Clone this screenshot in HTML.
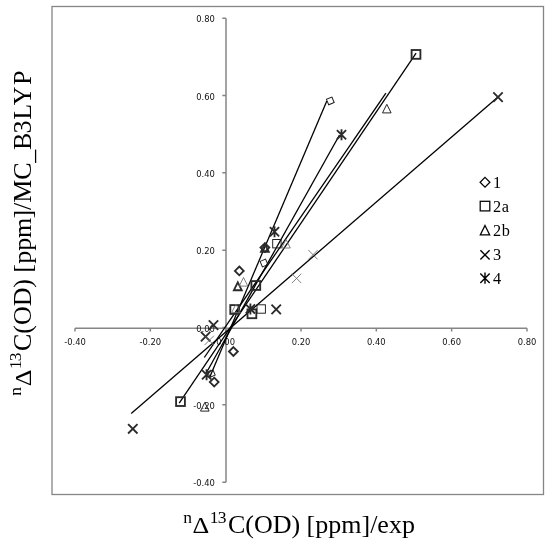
<!DOCTYPE html>
<html><head><meta charset="utf-8"><title>chart</title>
<style>
html,body{margin:0;padding:0;background:#fff;}
svg{display:block}
.tk{font-family:"DejaVu Sans","Liberation Sans",sans-serif;font-size:8.4px;fill:#111;}
.lt{font-family:"Liberation Serif",serif;font-size:16.3px;letter-spacing:0.7px;fill:#000;}
.ti{font-family:"Liberation Serif",serif;font-size:26px;fill:#000;}
.sup{font-size:17.5px;}
.tl{stroke:#000;stroke-width:1.3;}
.k{fill:none;stroke:#2a2a2a;stroke-width:1.85;}
.t{fill:none;stroke:#1a1a1a;stroke-width:0.95;}
.g{fill:none;stroke:#6a6a6a;stroke-width:0.85;}
.lg{fill:none;stroke:#000;stroke-width:1.25;}
.lgk{fill:none;stroke:#000;stroke-width:1.4;}
</style></head><body>
<svg width="548" height="550" viewBox="0 0 548 550">
<rect width="548" height="550" fill="#fff"/>
<rect x="52" y="6.5" width="491.5" height="488" fill="none" stroke="#858585" stroke-width="1.3"/>
<path d="M226,18.2 L226,482.2 M75,328.2 L527,328.2 M222.3,18.20 L226,18.20 M75.00,328.2 L75.00,331.5 M222.3,95.53 L226,95.53 M150.33,328.2 L150.33,331.5 M222.3,172.86 L226,172.86 M225.66,328.2 L225.66,331.5 M222.3,250.19 L226,250.19 M300.99,328.2 L300.99,331.5 M222.3,327.52 L226,327.52 M376.32,328.2 L376.32,331.5 M222.3,404.85 L226,404.85 M451.65,328.2 L451.65,331.5 M222.3,482.18 L226,482.18 M526.98,328.2 L526.98,331.5" fill="none" stroke="#858585" stroke-width="1.5"/>
<text class="tk" x="214.8" y="22.40" text-anchor="end">0.80</text>
<text class="tk" x="214.8" y="99.73" text-anchor="end">0.60</text>
<text class="tk" x="214.8" y="177.06" text-anchor="end">0.40</text>
<text class="tk" x="214.8" y="254.39" text-anchor="end">0.20</text>
<text class="tk" x="214.8" y="331.72" text-anchor="end">0.00</text>
<text class="tk" x="214.8" y="409.05" text-anchor="end">-0.20</text>
<text class="tk" x="214.8" y="486.38" text-anchor="end">-0.40</text>
<text class="tk" x="75.00" y="344.7" text-anchor="middle">-0.40</text>
<text class="tk" x="150.33" y="344.7" text-anchor="middle">-0.20</text>
<text class="tk" x="225.66" y="344.7" text-anchor="middle">0.00</text>
<text class="tk" x="300.99" y="344.7" text-anchor="middle">0.20</text>
<text class="tk" x="376.32" y="344.7" text-anchor="middle">0.40</text>
<text class="tk" x="451.65" y="344.7" text-anchor="middle">0.60</text>
<text class="tk" x="526.98" y="344.7" text-anchor="middle">0.80</text>
<line class="tl" x1="326.8" y1="100.9" x2="209.8" y2="376.9"/>
<line class="tl" x1="416.1" y1="53.1" x2="179.2" y2="403.1"/>
<line class="tl" x1="385.9" y1="93.1" x2="204.3" y2="357.5"/>
<line class="tl" x1="498" y1="97.1" x2="131.2" y2="413.5"/>
<line class="tl" x1="339.5" y1="135" x2="206.5" y2="372.5"/>
<path class="k" transform="translate(233.4,351.5) rotate(0)" d="M0,-4.4 L4.4,0 L0,4.4 L-4.4,0 Z"/>
<path class="k" transform="translate(214.2,382.1) rotate(0)" d="M0,-4.4 L4.4,0 L0,4.4 L-4.4,0 Z"/>
<path class="k" transform="translate(239.3,270.9) rotate(0)" d="M0,-4.4 L4.4,0 L0,4.4 L-4.4,0 Z"/>
<path class="k" transform="translate(264.9,247.6) rotate(0)" d="M0,-4.4 L4.4,0 L0,4.4 L-4.4,0 Z"/>
<path class="t" transform="translate(330.3,100.9) rotate(22)" d="M0,-4.2 L4.2,0 L0,4.2 L-4.2,0 Z"/>
<path class="t" transform="translate(264.0,263) rotate(22)" d="M0,-4.2 L4.2,0 L0,4.2 L-4.2,0 Z"/>
<path class="t" transform="translate(211.5,373.6) rotate(22)" d="M0,-4.0 L4.0,0 L0,4.0 L-4.0,0 Z"/>
<rect class="k" x="411.6" y="50.0" width="8.8" height="8.8"/>
<rect class="k" x="176.1" y="397.20000000000005" width="8.8" height="8.8"/>
<rect class="k" x="230.29999999999998" y="305.1" width="8.8" height="8.8"/>
<rect class="k" x="247.5" y="309.40000000000003" width="8.8" height="8.8"/>
<rect class="k" x="251.4" y="281.1" width="8.8" height="8.8"/>
<rect class="t" x="257.0" y="304.8" width="8.4" height="8.4"/>
<rect class="t" x="272.7" y="239.5" width="8.4" height="8.4"/>
<path class="k" d="M237.8,282.40000000000003 L241.70000000000002,290.2 L233.9,290.2 Z"/>
<path class="k" d="M264.9,244.0 L268.79999999999995,251.8 L261.0,251.8 Z"/>
<path class="t" d="M386.8,104.3 L391.1,112.89999999999999 L382.5,112.89999999999999 Z"/>
<path class="g" d="M243.5,277.5 L247.8,286.1 L239.2,286.1 Z"/>
<path class="g" d="M286,239.39999999999998 L290.3,248.0 L281.7,248.0 Z"/>
<path class="t" d="M204.8,402.5 L209.10000000000002,411.1 L200.5,411.1 Z"/>
<path class="g" d="M236,304.0 L240.3,312.6 L231.7,312.6 Z"/>
<path class="k" d="M493.3,92.39999999999999 L502.7,101.8 M502.7,92.39999999999999 L493.3,101.8"/>
<path class="k" d="M128.10000000000002,424.1 L137.5,433.5 M137.5,424.1 L128.10000000000002,433.5"/>
<path class="k" d="M208.8,320.40000000000003 L218.2,329.8 M218.2,320.40000000000003 L208.8,329.8"/>
<path class="k" d="M200.9,331.90000000000003 L210.29999999999998,341.3 M210.29999999999998,331.90000000000003 L200.9,341.3"/>
<path class="k" d="M271.5,304.7 L280.9,314.09999999999997 M280.9,304.7 L271.5,314.09999999999997"/>
<path class="g" d="M308.3,250.0 L317.7,259.4 M317.7,250.0 L308.3,259.4"/>
<path class="g" d="M291.90000000000003,273.7 L301.3,283.09999999999997 M301.3,273.7 L291.90000000000003,283.09999999999997"/>
<path class="g" d="M204.5,335.7 L213.89999999999998,345.09999999999997 M213.89999999999998,335.7 L204.5,345.09999999999997"/>
<path class="k" d="M336.9,130.20000000000002 L346.1,139.4 M346.1,130.20000000000002 L336.9,139.4 M341.5,129.3 L341.5,140.3"/>
<path class="k" d="M269.9,227.20000000000002 L279.1,236.4 M279.1,227.20000000000002 L269.9,236.4 M274.5,226.3 L274.5,237.3"/>
<path class="k" d="M245.8,304.29999999999995 L255.0,313.5 M255.0,304.29999999999995 L245.8,313.5 M250.4,303.4 L250.4,314.4"/>
<path class="k" d="M202.0,370.2 L211.2,379.40000000000003 M211.2,370.2 L202.0,379.40000000000003 M206.6,369.3 L206.6,380.3"/>
<path class="lg" transform="translate(485,182.3) rotate(0)" d="M0,-4.9 L4.9,0 L0,4.9 L-4.9,0 Z"/>
<rect class="lg" x="480.2" y="201.29999999999998" width="9.6" height="9.6"/>
<path class="lg" d="M485,225.5 L489.7,234.89999999999998 L480.3,234.89999999999998 Z"/>
<path class="lgk" d="M480.4,250.3 L489.6,259.5 M489.6,250.3 L480.4,259.5"/>
<path class="lgk" d="M480.3,273.5 L489.7,282.9 M489.7,273.5 L480.3,282.9 M485,272.6 L485,283.79999999999995"/>
<text class="lt" x="493" y="188.4">1</text>
<text class="lt" x="493" y="212.4">2a</text>
<text class="lt" x="493" y="236">2b</text>
<text class="lt" x="493" y="260">3</text>
<text class="lt" x="493" y="284">4</text>
<g transform="translate(183,533.2)"><text class="ti sup" x="0.2" y="-10">n</text><text class="ti" transform="translate(9.6,0) scale(1,0.88)">Δ</text><text class="ti sup" x="26.8" y="-10">1</text><text class="ti sup" x="34.7" y="-10">3</text><text class="ti" x="44.9" y="0">C(OD) [ppm]/exp</text></g>
<g transform="translate(31.0,395.9) rotate(-90)"><text class="ti sup" x="0.2" y="-10">n</text><text class="ti" transform="translate(9.6,0) scale(1,0.88)">Δ</text><text class="ti sup" x="26.8" y="-10">1</text><text class="ti sup" x="34.7" y="-10">3</text><text class="ti" x="44.9" y="0" dx="0 0 0 0 -0.3 0 -0.2 0.3 0 -0.3 -0.7 0 -0.1 -0.1 -0.4 -0.2 -0.9 0.7 1.3 1.4" dy="0 0 0 0 0 0 0 0 0 0 0 0 0 0 2 -2 0 0 0 0">C(OD) [ppm]/MC_B3LYP</text></g>
</svg>
</body></html>
